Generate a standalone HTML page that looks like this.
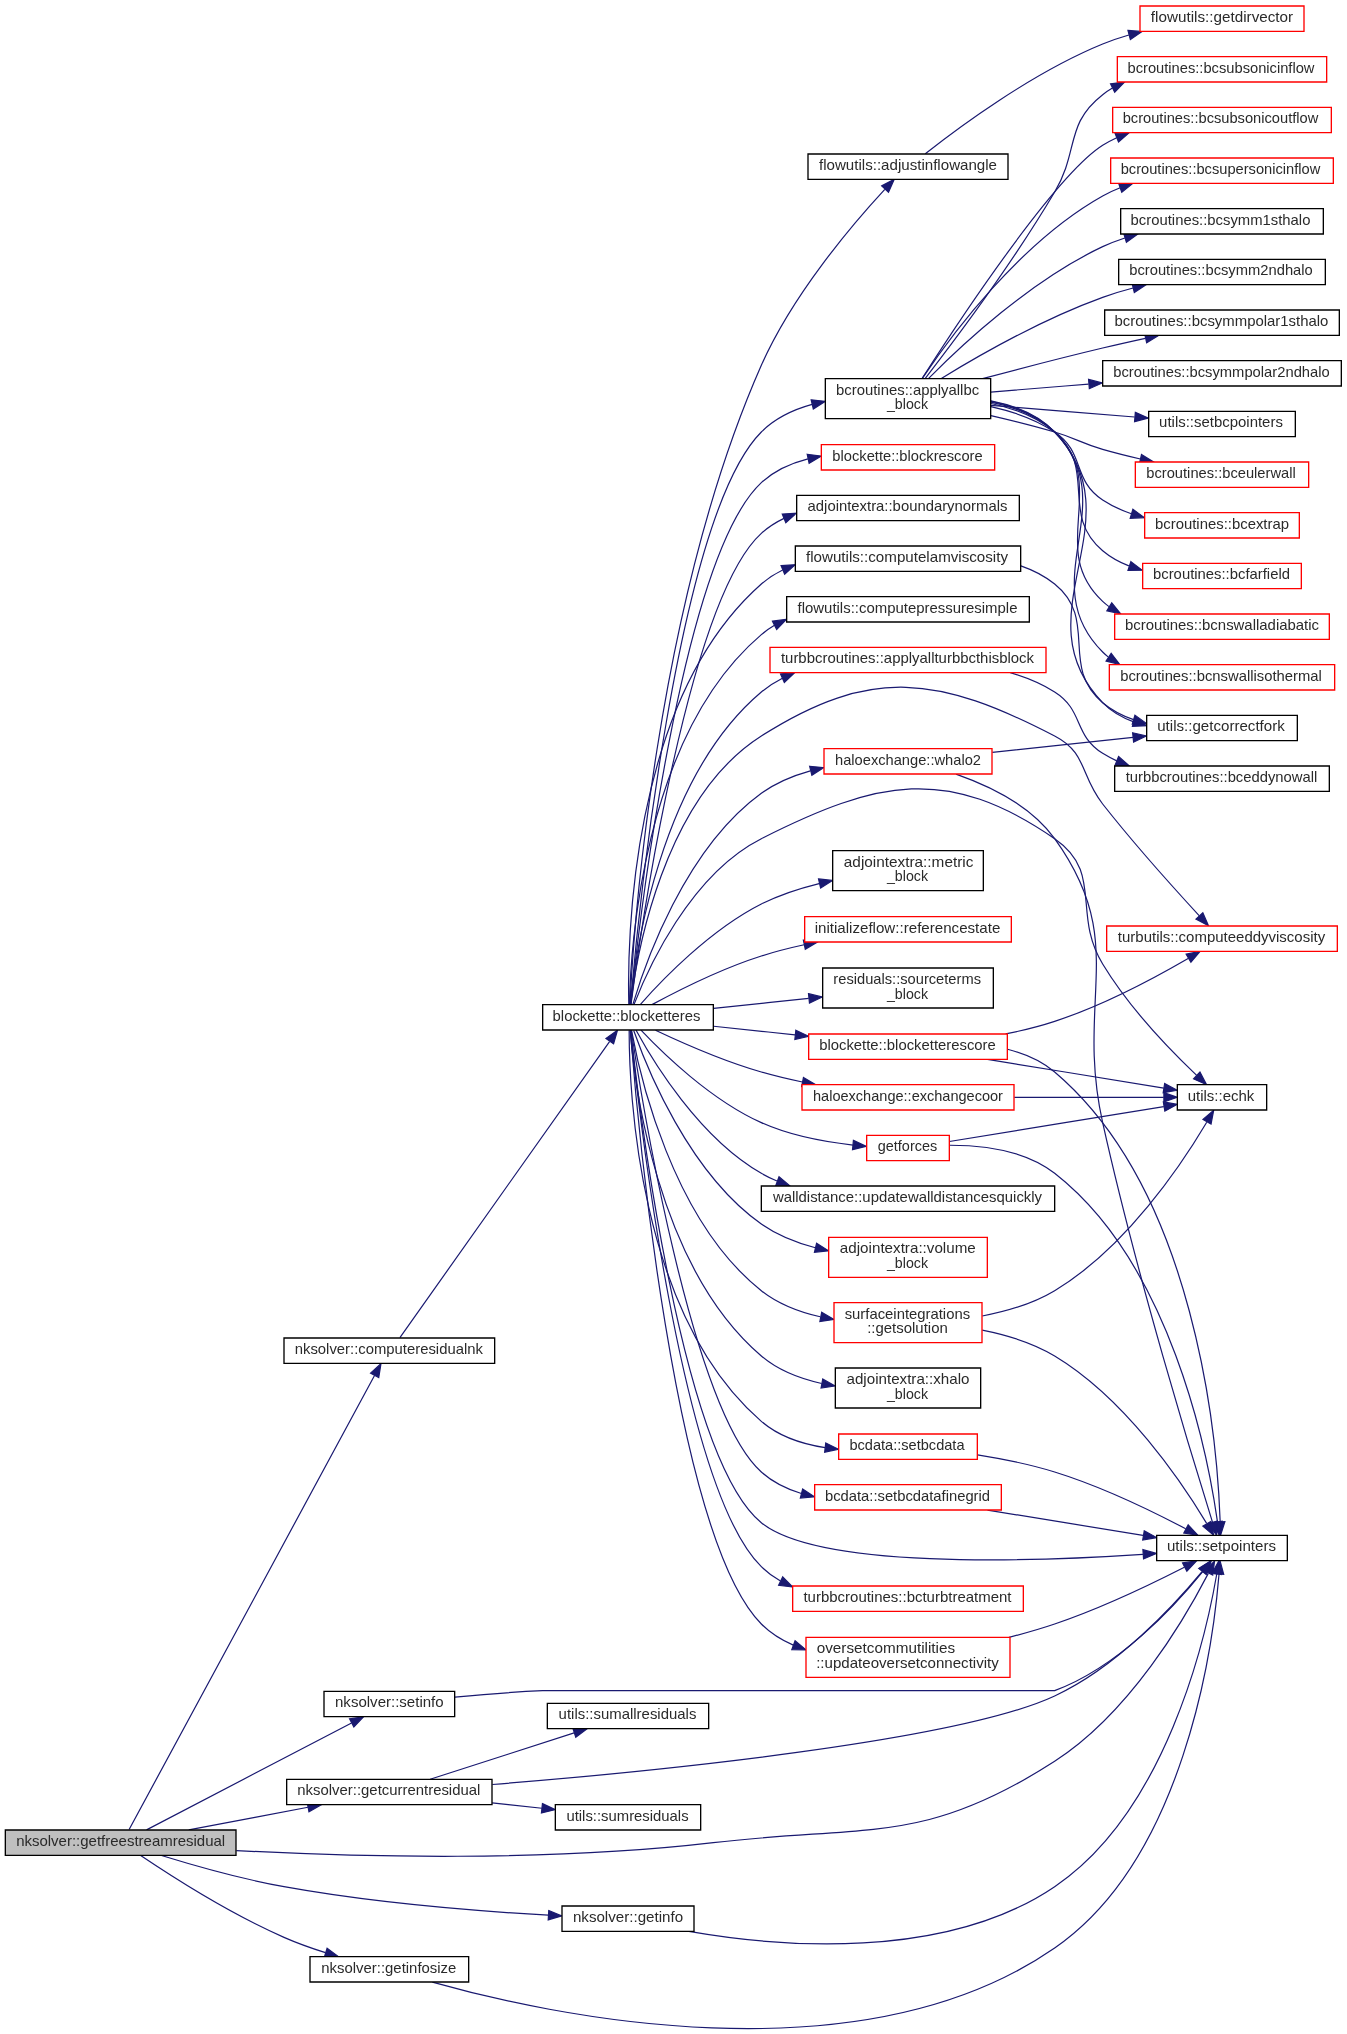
<!DOCTYPE html>
<html><head><meta charset="utf-8"><title>nksolver::getfreestreamresidual call graph</title>
<style>
html,body{margin:0;padding:0;background:#fff;overflow:hidden;}
svg{display:block;will-change:transform;}
text{font-family:"Liberation Sans",sans-serif;font-size:11.25px;fill:#2a2a2a;}
</style></head><body>
<svg width="1347" height="2034" viewBox="0 0 1010.25 1525.5">
<rect x="0" y="0" width="1010.25" height="1525.5" fill="#fff"/>
<g transform="translate(4.0 1521.76)">
<g fill="none" stroke="#191970" stroke-width="0.9">
<path d="M92.84,-149.63C119.77,-199.45 240.92,-423.53 276.9,-490.07"/>
<path d="M173.28,-133.85C262.87,-129.06 407.31,-125.22 531,-139.76 647.16,-153.41 688.64,-137.47 787,-200.76 843.33,-237 884.71,-307.78 902.24,-341.72"/>
<path d="M137.58,-149.3C164.74,-154.47 198.49,-160.9 227.03,-166.33"/>
<path d="M117.13,-130.17C141.53,-122.65 177.17,-112.52 209,-106.76 276.38,-94.55 354.89,-88.37 407.24,-85.36"/>
<path d="M101.52,-130.11C123.57,-115.29 168.06,-86.73 209,-68.76 218.83,-64.44 229.68,-60.58 240.08,-57.28"/>
<path d="M105.91,-149.35C141.17,-167.74 218.38,-207.99 259.67,-229.51"/>
<path d="M295.94,-518.56C322.54,-556.13 418.26,-691.33 453.15,-740.61"/>
<path d="M468.43,-768.54C471.03,-820.35 487.25,-1067.08 567,-1247.76 590.47,-1300.94 635.4,-1353.55 659.6,-1379.71"/>
<path d="M468.79,-768.29C473.83,-826.5 503.17,-1133.69 567,-1197.76 577.3,-1208.09 590.95,-1214.52 605.09,-1218.43"/>
<path d="M468.79,-768.28C472.35,-804.92 490.32,-938.03 567,-1002.76 571.81,-1006.82 577.15,-1010.23 582.82,-1013.1"/>
<path d="M468.95,-749.08C474.68,-692.6 506.48,-406.13 567,-346.76 571.3,-342.54 576.16,-338.99 581.38,-336.02"/>
<path d="M531.25,-752.07C550.48,-750.03 571.9,-747.77 592.26,-745.61"/>
<path d="M469.03,-768.68C473.29,-803.8 492.89,-922.67 567,-969.76 649.53,-1022.2 700.18,-1014.74 787,-969.76 811.63,-956.99 805.83,-940.55 823,-918.76 846.98,-888.31 877.14,-854.81 895.34,-835.07"/>
<path d="M471.47,-768.27C481.5,-794.13 513.29,-865.66 567,-892.76 654.3,-936.8 706.44,-948.17 787,-892.76 823.86,-867.4 799.8,-837.01 823,-798.76 842.86,-766 873.95,-733.87 893.5,-715.2"/>
<path d="M469.02,-749C474.93,-694.58 506.58,-429.14 567,-379.76 609.34,-345.15 766.52,-350.24 853.19,-356.01"/>
<path d="M468.99,-768.59C474.84,-824.65 506.7,-1103.51 567,-1159.76 576.68,-1168.79 589.05,-1174.33 601.96,-1177.62"/>
<path d="M469.23,-768.34C476.12,-820.67 511.69,-1071.4 567,-1121.76 572.06,-1126.36 577.82,-1130.05 583.99,-1133"/>
<path d="M467.62,-768.32C466.45,-812.24 467.78,-996.06 567,-1083.76 571.82,-1088.01 577.24,-1091.48 583.02,-1094.3"/>
<path d="M468.06,-768.31C468.85,-809.05 477.73,-969.71 567,-1045.76 570.08,-1048.38 573.39,-1050.7 576.87,-1052.75"/>
<path d="M487.63,-749.11C507.28,-739.82 538.59,-726.01 567,-717.76 576.86,-714.9 587.34,-712.4 597.77,-710.24"/>
<path d="M476.75,-749.13C492.82,-732.12 528.9,-696.91 567,-679.76 588.52,-670.07 614.5,-665.3 635.7,-662.97"/>
<path d="M469.59,-749.18C475.59,-716.24 500.02,-606.69 567,-553.76 579.6,-543.8 595.45,-537.78 611.15,-534.18"/>
<path d="M476.19,-768.36C491.9,-786.14 528.17,-824.16 567,-843.76 580.38,-850.51 595.6,-855.46 610.33,-859.09"/>
<path d="M484.99,-768.28C504.29,-778.7 537.02,-795.21 567,-804.76 577.25,-808.02 588.21,-810.81 599.1,-813.18"/>
<path d="M467.86,-748.98C467.83,-706.51 473.72,-536.55 567,-455.76 580.17,-444.35 597.69,-438.64 614.82,-436.02"/>
<path d="M469.42,-749.09C477.02,-698.5 514.65,-464.64 567,-417.76 575.52,-410.12 585.98,-405.02 597.01,-401.67"/>
<path d="M531.25,-765.45C553.74,-767.83 579.25,-770.52 602.52,-772.99"/>
<path d="M468.74,-748.88C473.45,-688.57 501.21,-370.29 567,-303.76 573.79,-296.89 582.05,-291.75 590.96,-287.92"/>
<path d="M472.95,-749.24C485.35,-726.45 520.14,-668.62 567,-641.76 570.75,-639.61 574.68,-637.69 578.74,-635.98"/>
<path d="M471.27,-748.89C480.99,-721.18 512.45,-642.2 567,-603.76 578.93,-595.35 593.25,-589.73 607.52,-585.97"/>
<path d="M470.74,-768.62C479.42,-797.88 509.18,-884.82 567,-926.76 577.81,-934.6 590.7,-939.96 603.77,-943.6"/>
<path d="M468.63,-749.12C471.64,-711.39 487.9,-572.46 567,-504.76 579.62,-493.96 596,-487.7 612.22,-484.15"/>
<path d="M689.98,-1406.48C713.8,-1425.31 769.47,-1466.85 823,-1488.76 829.25,-1491.32 835.9,-1493.55 842.64,-1495.5"/>
<path d="M739.16,-1210.1C754.85,-1206.48 771.63,-1202.28 787,-1197.76 803.32,-1192.96 806.65,-1189.44 823,-1184.76 832.08,-1182.16 841.78,-1179.73 851.3,-1177.54"/>
<path d="M739.17,-1216.82C755.69,-1213.13 772.89,-1207.22 787,-1197.76 810.04,-1182.3 799.85,-1162.05 823,-1146.76 829.55,-1142.43 836.9,-1139.07 844.51,-1136.46"/>
<path d="M739.28,-1219.15C756.28,-1215.55 773.7,-1209.09 787,-1197.76 819.47,-1170.08 790.34,-1136.21 823,-1108.76 828.79,-1103.89 835.53,-1100.18 842.66,-1097.37"/>
<path d="M739.23,-1220.22C756.53,-1216.68 774.12,-1210 787,-1197.76 829.52,-1157.34 780.19,-1110.88 823,-1070.76 824.5,-1069.35 826.09,-1068.03 827.74,-1066.8"/>
<path d="M739.13,-1220.81C756.63,-1217.33 774.37,-1210.52 787,-1197.76 839.79,-1144.4 769.84,-1085.74 823,-1032.76 824.3,-1031.46 825.67,-1030.24 827.09,-1029.1"/>
<path d="M689.97,-1238.06C710.98,-1265.28 755.27,-1324.29 787,-1377.76 805.46,-1408.87 794.47,-1428.52 823,-1450.76 825.32,-1452.57 827.78,-1454.22 830.34,-1455.72"/>
<path d="M687.54,-1237.85C713.61,-1278.66 786.56,-1389.64 823,-1412.76 826.34,-1414.87 829.88,-1416.76 833.54,-1418.44"/>
<path d="M687.88,-1238.14C708.76,-1269.29 760.62,-1339.85 823,-1374.76 827.15,-1377.08 831.56,-1379.12 836.11,-1380.91"/>
<path d="M692.5,-1237.99C716.97,-1262.74 769.08,-1311.45 823,-1336.76 828.29,-1339.24 833.9,-1341.4 839.64,-1343.28"/>
<path d="M701.7,-1237.77C729.68,-1254.86 778.1,-1282.51 823,-1298.76 830.27,-1301.39 838.02,-1303.71 845.79,-1305.74"/>
<path d="M732.94,-1237.77C759.99,-1245.01 793.13,-1253.64 823,-1260.76 833.31,-1263.21 844.33,-1265.69 854.97,-1268.02"/>
<path d="M739.04,-1227.72C761.49,-1229.55 787.52,-1231.67 812.46,-1233.7"/>
<path d="M739.16,-1221.17C756.77,-1217.72 774.56,-1210.84 787,-1197.76 850.15,-1131.37 759.38,-1060.7 823,-994.76 829.41,-988.11 837.54,-983.52 846.26,-980.38"/>
<path d="M739.04,-1217.79C772.23,-1215.09 813.26,-1211.75 846.97,-1209.01"/>
<path d="M753.69,-1017.24C765.38,-1013.79 776.91,-1009.1 787,-1002.76 808.97,-988.93 800.99,-970.53 823,-956.76 826.35,-954.66 829.9,-952.79 833.57,-951.13"/>
<path d="M750.26,-746.32C762.67,-748.82 775.32,-751.92 787,-755.76 823.45,-767.73 862.62,-788.73 887.09,-802.93"/>
<path d="M736.62,-727.22C777.74,-720.53 831.78,-711.73 868.84,-705.7"/>
<path d="M751.62,-734.82C764.5,-731.59 776.97,-726.27 787,-717.76 893.24,-627.56 908.89,-441.42 911.14,-380.52"/>
<path d="M761.64,-1097.37C770.82,-1094.2 779.53,-1089.79 787,-1083.76 820.19,-1056.94 790.34,-1022.21 823,-994.76 829.73,-989.1 837.75,-985.01 846.16,-982.07"/>
<path d="M756.73,-698.76C794.2,-698.76 837.53,-698.76 868.8,-698.76"/>
<path d="M708.05,-665.65C748.93,-672.3 822.3,-684.24 868.86,-691.82"/>
<path d="M708.35,-662.81C732.11,-662.82 764.75,-659.14 787,-641.76 873.79,-573.96 901.56,-432.84 909.06,-380.69"/>
<path d="M732.69,-534.76C750.91,-538.21 770.7,-544.01 787,-553.76 840.44,-585.72 882.44,-648.76 901.05,-680.12"/>
<path d="M732.68,-524.15C750.9,-520.53 770.7,-514.57 787,-504.76 840.15,-472.78 882.29,-410.29 900.99,-379.21"/>
<path d="M729.11,-430.62C747.6,-427.68 768.47,-423.51 787,-417.76 822.28,-406.81 860.59,-388.15 885.27,-375.18"/>
<path d="M736.62,-389.22C772.28,-383.41 817.65,-376.03 853.24,-370.24"/>
<path d="M752.74,-293.77C764.32,-296.7 776.06,-300.04 787,-303.76 821.58,-315.5 859.48,-333.67 884.28,-346.33"/>
<path d="M740.27,-957.42C772.83,-960.91 812.69,-965.18 845.76,-968.72"/>
<path d="M713,-941.19C737.61,-932.59 769.2,-917.45 787,-892.76 843.14,-814.88 802.14,-773.47 823,-679.76 848.6,-564.75 889.95,-429.38 905.41,-380"/>
<path d="M365.28,-183.39C485.68,-193.17 713.65,-215.6 787,-249.76 834.2,-271.74 876.51,-317.6 897.52,-342.95"/>
<path d="M318.63,-187.3C348.24,-196.83 393.94,-211.55 426.59,-222.07"/>
<path d="M365.09,-169.59C377.54,-168.25 390.31,-166.88 402.41,-165.58"/>
<path d="M512.66,-73.22C578.76,-61.74 703.75,-50.41 787,-106.76 870.38,-163.2 900.06,-292.16 908.58,-341.27"/>
<path d="M320.26,-35.19C404.44,-11.45 639.52,41.18 787,-60.76 884.01,-127.81 905.61,-285.51 910.26,-341.01"/>
<path d="M337.2,-248.93C357.49,-250.86 381.36,-252.81 403,-253.76 403,-253.76 787,-253.76 787,-253.76 835.29,-271.66 877.44,-317.6 898.05,-343.07"/>
</g>
<g fill="#191970" stroke="#191970" stroke-width="0.9">
<polygon points="273.91,-491.9 281.74,-499.03 280.06,-488.57 273.91,-491.9"/>
<polygon points="899.28,-343.63 906.91,-350.99 905.54,-340.48 899.28,-343.63"/>
<polygon points="226.42,-169.78 236.89,-168.21 227.73,-162.9 226.42,-169.78"/>
<polygon points="407.56,-88.85 417.35,-84.8 407.17,-81.86 407.56,-88.85"/>
<polygon points="241.32,-60.56 249.86,-54.29 239.27,-53.86 241.32,-60.56"/>
<polygon points="258.15,-232.66 268.63,-234.18 261.38,-226.46 258.15,-232.66"/>
<polygon points="450.47,-742.89 459.11,-749.02 456.19,-738.84 450.47,-742.89"/>
<polygon points="657.27,-1382.35 666.67,-1387.24 662.37,-1377.56 657.27,-1382.35"/>
<polygon points="604.38,-1221.86 614.92,-1220.76 605.99,-1215.05 604.38,-1221.86"/>
<polygon points="581.4,-1016.3 591.96,-1017.18 584.25,-1009.91 581.4,-1016.3"/>
<polygon points="583.06,-339.09 590.48,-331.53 579.96,-332.82 583.06,-339.09"/>
<polygon points="592.89,-749.07 602.46,-744.53 592.15,-742.11 592.89,-749.07"/>
<polygon points="898.12,-837.21 902.35,-827.5 892.99,-832.45 898.12,-837.21"/>
<polygon points="895.97,-717.68 900.87,-708.29 891.18,-712.58 895.97,-717.68"/>
<polygon points="853.18,-359.52 863.4,-356.71 853.66,-352.53 853.18,-359.52"/>
<polygon points="601.4,-1181.07 611.9,-1179.7 602.84,-1174.22 601.4,-1181.07"/>
<polygon points="582.7,-1136.25 593.28,-1136.79 585.35,-1129.77 582.7,-1136.25"/>
<polygon points="581.8,-1097.58 592.38,-1098.2 584.49,-1091.12 581.8,-1097.58"/>
<polygon points="575.34,-1055.9 585.85,-1057.3 578.51,-1049.66 575.34,-1055.9"/>
<polygon points="598.6,-713.65 607.73,-708.28 597.24,-706.78 598.6,-713.65"/>
<polygon points="636.06,-666.45 645.68,-662 635.39,-659.48 636.06,-666.45"/>
<polygon points="612.27,-537.53 621.4,-532.15 610.91,-530.66 612.27,-537.53"/>
<polygon points="609.9,-862.58 620.43,-861.39 611.46,-855.76 609.9,-862.58"/>
<polygon points="598.55,-816.64 609.05,-815.24 599.97,-809.79 598.55,-816.64"/>
<polygon points="615.32,-439.49 624.83,-434.82 614.49,-432.54 615.32,-439.49"/>
<polygon points="597.99,-405.03 606.81,-399.16 596.26,-398.25 597.99,-405.03"/>
<polygon points="602.38,-776.49 612.69,-774.06 603.11,-769.53 602.38,-776.49"/>
<polygon points="592.3,-291.16 600.45,-284.39 589.85,-284.6 592.3,-291.16"/>
<polygon points="580.26,-639.14 588.39,-632.35 577.8,-632.59 580.26,-639.14"/>
<polygon points="608.44,-589.35 617.37,-583.66 606.84,-582.54 608.44,-589.35"/>
<polygon points="603.22,-947.07 613.77,-946.07 604.9,-940.27 603.22,-947.07"/>
<polygon points="613.08,-487.55 622.26,-482.28 611.79,-480.67 613.08,-487.55"/>
<polygon points="841.97,-1498.94 852.54,-1498.15 843.78,-1492.18 841.97,-1498.94"/>
<polygon points="852.13,-1180.94 861.13,-1175.34 850.61,-1174.11 852.13,-1180.94"/>
<polygon points="845.66,-1139.77 854.23,-1133.55 843.65,-1133.07 845.66,-1139.77"/>
<polygon points="844.19,-1100.55 852.57,-1094.06 841.97,-1093.91 844.19,-1100.55"/>
<polygon points="829.83,-1069.62 836.48,-1061.38 826.14,-1063.68 829.83,-1069.62"/>
<polygon points="829.4,-1031.77 835.81,-1023.33 825.54,-1025.93 829.4,-1031.77"/>
<polygon points="828.89,-1458.9 839.4,-1460.26 832.03,-1452.64 828.89,-1458.9"/>
<polygon points="832.29,-1421.7 842.87,-1422.19 834.9,-1415.21 832.29,-1421.7"/>
<polygon points="835,-1384.23 845.59,-1384.25 837.32,-1377.63 835,-1384.23"/>
<polygon points="838.79,-1346.68 849.38,-1346.19 840.8,-1339.97 838.79,-1346.68"/>
<polygon points="845.07,-1309.17 855.61,-1308.17 846.74,-1302.37 845.07,-1309.17"/>
<polygon points="854.51,-1271.5 865.02,-1270.19 855.99,-1264.65 854.51,-1271.5"/>
<polygon points="812.43,-1237.21 822.69,-1234.53 813,-1230.23 812.43,-1237.21"/>
<polygon points="847.31,-983.72 855.9,-977.52 845.32,-977.01 847.31,-983.72"/>
<polygon points="847.5,-1212.48 857.18,-1208.18 846.93,-1205.5 847.5,-1212.48"/>
<polygon points="834.93,-954.35 842.92,-947.4 832.33,-947.85 834.93,-954.35"/>
<polygon points="885.62,-806.13 896.02,-808.19 889.18,-800.1 885.62,-806.13"/>
<polygon points="869.51,-709.14 878.82,-704.08 868.38,-702.23 869.51,-709.14"/>
<polygon points="914.65,-380.46 911.43,-370.36 907.65,-380.26 914.65,-380.46"/>
<polygon points="847.2,-985.41 855.79,-979.22 845.21,-978.7 847.2,-985.41"/>
<polygon points="868.92,-702.26 878.92,-698.76 868.92,-695.26 868.92,-702.26"/>
<polygon points="868.51,-695.31 878.94,-693.46 869.63,-688.4 868.51,-695.31"/>
<polygon points="912.58,-380.83 910.43,-370.45 905.64,-379.9 912.58,-380.83"/>
<polygon points="898.22,-682.21 906.26,-689.11 904.28,-678.7 898.22,-682.21"/>
<polygon points="904.17,-380.7 906.22,-370.31 898.14,-377.16 904.17,-380.7"/>
<polygon points="887.15,-378.14 894.33,-370.34 883.86,-371.96 887.15,-378.14"/>
<polygon points="854.17,-373.63 863.47,-368.57 853.04,-366.72 854.17,-373.63"/>
<polygon points="882.93,-349.57 893.42,-351.05 886.14,-343.35 882.93,-349.57"/>
<polygon points="845.47,-972.21 855.79,-969.79 846.21,-965.25 845.47,-972.21"/>
<polygon points="908.79,-380.91 908.45,-370.32 902.12,-378.81 908.79,-380.91"/>
<polygon points="895.02,-345.43 904.04,-350.99 900.46,-341.02 895.02,-345.43"/>
<polygon points="425.69,-225.45 436.28,-225.19 427.83,-218.79 425.69,-225.45"/>
<polygon points="402.83,-169.06 412.4,-164.51 402.08,-162.1 402.83,-169.06"/>
<polygon points="905.13,-341.92 910.19,-351.22 912.04,-340.79 905.13,-341.92"/>
<polygon points="906.79,-341.52 911.02,-351.23 913.77,-341 906.79,-341.52"/>
<polygon points="895.48,-345.47 904.42,-351.15 900.98,-341.13 895.48,-345.47"/>
</g>
<g stroke-width="1">
<polygon fill="#bfbfbf" stroke="black" points="0,-130.26 0,-149.26 173,-149.26 173,-130.26 0,-130.26"/>
<polygon fill="white" stroke="black" points="209,-499.26 209,-518.26 367,-518.26 367,-499.26 209,-499.26"/>
<polygon fill="white" stroke="black" points="863.5,-351.26 863.5,-370.26 961.5,-370.26 961.5,-351.26 863.5,-351.26"/>
<polygon fill="white" stroke="black" points="211,-168.26 211,-187.26 365,-187.26 365,-168.26 211,-168.26"/>
<polygon fill="white" stroke="black" points="417.5,-73.26 417.5,-92.26 516.5,-92.26 516.5,-73.26 417.5,-73.26"/>
<polygon fill="white" stroke="black" points="228.5,-35.26 228.5,-54.26 347.5,-54.26 347.5,-35.26 228.5,-35.26"/>
<polygon fill="white" stroke="black" points="239,-234.26 239,-253.26 337,-253.26 337,-234.26 239,-234.26"/>
<polygon fill="white" stroke="black" points="403,-749.26 403,-768.26 531,-768.26 531,-749.26 403,-749.26"/>
<polygon fill="white" stroke="black" points="602,-1387.26 602,-1406.26 752,-1406.26 752,-1387.26 602,-1387.26"/>
<polygon fill="white" stroke="black" points="615,-1207.76 615,-1237.76 739,-1237.76 739,-1207.76 615,-1207.76"/>
<polygon fill="white" stroke="red" points="573.5,-1017.26 573.5,-1036.26 780.5,-1036.26 780.5,-1017.26 573.5,-1017.26"/>
<polygon fill="white" stroke="red" points="590.5,-313.26 590.5,-332.26 763.5,-332.26 763.5,-313.26 590.5,-313.26"/>
<polygon fill="white" stroke="red" points="602.5,-727.26 602.5,-746.26 751.5,-746.26 751.5,-727.26 602.5,-727.26"/>
<polygon fill="white" stroke="red" points="826,-808.26 826,-827.26 999,-827.26 999,-808.26 826,-808.26"/>
<polygon fill="white" stroke="black" points="879,-689.26 879,-708.26 946,-708.26 946,-689.26 879,-689.26"/>
<polygon fill="white" stroke="red" points="612,-1169.26 612,-1188.26 742,-1188.26 742,-1169.26 612,-1169.26"/>
<polygon fill="white" stroke="black" points="593.5,-1131.26 593.5,-1150.26 760.5,-1150.26 760.5,-1131.26 593.5,-1131.26"/>
<polygon fill="white" stroke="black" points="592.5,-1093.26 592.5,-1112.26 761.5,-1112.26 761.5,-1093.26 592.5,-1093.26"/>
<polygon fill="white" stroke="black" points="586,-1055.26 586,-1074.26 768,-1074.26 768,-1055.26 586,-1055.26"/>
<polygon fill="white" stroke="red" points="597.5,-689.26 597.5,-708.26 756.5,-708.26 756.5,-689.26 597.5,-689.26"/>
<polygon fill="white" stroke="red" points="646,-651.26 646,-670.26 708,-670.26 708,-651.26 646,-651.26"/>
<polygon fill="white" stroke="red" points="621.5,-514.76 621.5,-544.76 732.5,-544.76 732.5,-514.76 621.5,-514.76"/>
<polygon fill="white" stroke="black" points="620.5,-853.76 620.5,-883.76 733.5,-883.76 733.5,-853.76 620.5,-853.76"/>
<polygon fill="white" stroke="red" points="599.5,-815.26 599.5,-834.26 754.5,-834.26 754.5,-815.26 599.5,-815.26"/>
<polygon fill="white" stroke="red" points="625,-427.26 625,-446.26 729,-446.26 729,-427.26 625,-427.26"/>
<polygon fill="white" stroke="red" points="607,-389.26 607,-408.26 747,-408.26 747,-389.26 607,-389.26"/>
<polygon fill="white" stroke="black" points="613,-765.76 613,-795.76 741,-795.76 741,-765.76 613,-765.76"/>
<polygon fill="white" stroke="red" points="600.5,-263.76 600.5,-293.76 753.5,-293.76 753.5,-263.76 600.5,-263.76"/>
<polygon fill="white" stroke="black" points="567,-613.26 567,-632.26 787,-632.26 787,-613.26 567,-613.26"/>
<polygon fill="white" stroke="red" points="617.5,-563.76 617.5,-593.76 736.5,-593.76 736.5,-563.76 617.5,-563.76"/>
<polygon fill="white" stroke="red" points="614,-941.26 614,-960.26 740,-960.26 740,-941.26 614,-941.26"/>
<polygon fill="white" stroke="black" points="622.5,-465.76 622.5,-495.76 731.5,-495.76 731.5,-465.76 622.5,-465.76"/>
<polygon fill="white" stroke="red" points="851,-1498.26 851,-1517.26 974,-1517.26 974,-1498.26 851,-1498.26"/>
<polygon fill="white" stroke="red" points="847.5,-1156.26 847.5,-1175.26 977.5,-1175.26 977.5,-1156.26 847.5,-1156.26"/>
<polygon fill="white" stroke="red" points="854.5,-1118.26 854.5,-1137.26 970.5,-1137.26 970.5,-1118.26 854.5,-1118.26"/>
<polygon fill="white" stroke="red" points="853,-1080.26 853,-1099.26 972,-1099.26 972,-1080.26 853,-1080.26"/>
<polygon fill="white" stroke="red" points="832,-1042.26 832,-1061.26 993,-1061.26 993,-1042.26 832,-1042.26"/>
<polygon fill="white" stroke="red" points="828,-1004.26 828,-1023.26 997,-1023.26 997,-1004.26 828,-1004.26"/>
<polygon fill="white" stroke="red" points="834,-1460.26 834,-1479.26 991,-1479.26 991,-1460.26 834,-1460.26"/>
<polygon fill="white" stroke="red" points="830.5,-1422.26 830.5,-1441.26 994.5,-1441.26 994.5,-1422.26 830.5,-1422.26"/>
<polygon fill="white" stroke="red" points="829,-1384.26 829,-1403.26 996,-1403.26 996,-1384.26 829,-1384.26"/>
<polygon fill="white" stroke="black" points="836.5,-1346.26 836.5,-1365.26 988.5,-1365.26 988.5,-1346.26 836.5,-1346.26"/>
<polygon fill="white" stroke="black" points="835,-1308.26 835,-1327.26 990,-1327.26 990,-1308.26 835,-1308.26"/>
<polygon fill="white" stroke="black" points="824.5,-1270.26 824.5,-1289.26 1000.5,-1289.26 1000.5,-1270.26 824.5,-1270.26"/>
<polygon fill="white" stroke="black" points="823,-1232.26 823,-1251.26 1002,-1251.26 1002,-1232.26 823,-1232.26"/>
<polygon fill="white" stroke="black" points="856,-966.26 856,-985.26 969,-985.26 969,-966.26 856,-966.26"/>
<polygon fill="white" stroke="black" points="857.5,-1194.26 857.5,-1213.26 967.5,-1213.26 967.5,-1194.26 857.5,-1194.26"/>
<polygon fill="white" stroke="black" points="832,-928.26 832,-947.26 993,-947.26 993,-928.26 832,-928.26"/>
<polygon fill="white" stroke="black" points="406.5,-225.26 406.5,-244.26 527.5,-244.26 527.5,-225.26 406.5,-225.26"/>
<polygon fill="white" stroke="black" points="412.5,-149.26 412.5,-168.26 521.5,-168.26 521.5,-149.26 412.5,-149.26"/>
</g>
<g lengthAdjust="spacingAndGlyphs">
<text x="86.5" y="-137.26" text-anchor="middle" lengthAdjust="spacingAndGlyphs" textLength="156.76">nksolver::getfreestreamresidual</text>
<text x="287.62" y="-506.26" text-anchor="middle" lengthAdjust="spacingAndGlyphs" textLength="141.08">nksolver::computeresidualnk</text>
<text x="912.12" y="-358.26" text-anchor="middle" lengthAdjust="spacingAndGlyphs" textLength="81.76">utils::setpointers</text>
<text x="287.62" y="-175.26" text-anchor="middle" lengthAdjust="spacingAndGlyphs" textLength="137.31">nksolver::getcurrentresidual</text>
<text x="467" y="-80.26" text-anchor="middle" lengthAdjust="spacingAndGlyphs" textLength="82.65">nksolver::getinfo</text>
<text x="287.62" y="-42.26" text-anchor="middle" lengthAdjust="spacingAndGlyphs" textLength="101.28">nksolver::getinfosize</text>
<text x="288" y="-241.26" text-anchor="middle" lengthAdjust="spacingAndGlyphs" textLength="81.49">nksolver::setinfo</text>
<text x="465.88" y="-756.26" text-anchor="middle" lengthAdjust="spacingAndGlyphs" textLength="110.87">blockette::blocketteres</text>
<text x="677" y="-1394.26" text-anchor="middle" lengthAdjust="spacingAndGlyphs" textLength="133.54">flowutils::adjustinflowangle</text>
<text x="623" y="-1225.76" lengthAdjust="spacingAndGlyphs" textLength="107.34">bcroutines::applyallbc</text>
<text x="676.62" y="-1214.76" text-anchor="middle" lengthAdjust="spacingAndGlyphs" textLength="30.78">_block</text>
<text x="676.62" y="-1024.26" text-anchor="middle" lengthAdjust="spacingAndGlyphs" textLength="189.84">turbbcroutines::applyallturbbcthisblock</text>
<text x="676.62" y="-320.26" text-anchor="middle" lengthAdjust="spacingAndGlyphs" textLength="156.03">turbbcroutines::bcturbtreatment</text>
<text x="676.62" y="-734.26" text-anchor="middle" lengthAdjust="spacingAndGlyphs" textLength="132.51">blockette::blocketterescore</text>
<text x="912.12" y="-815.26" text-anchor="middle" lengthAdjust="spacingAndGlyphs" textLength="155.46">turbutils::computeeddyviscosity</text>
<text x="911.75" y="-696.26" text-anchor="middle" lengthAdjust="spacingAndGlyphs" textLength="50.00">utils::echk</text>
<text x="676.62" y="-1176.26" text-anchor="middle" lengthAdjust="spacingAndGlyphs" textLength="112.73">blockette::blockrescore</text>
<text x="676.62" y="-1138.26" text-anchor="middle" lengthAdjust="spacingAndGlyphs" textLength="149.83">adjointextra::boundarynormals</text>
<text x="676.25" y="-1100.26" text-anchor="middle" lengthAdjust="spacingAndGlyphs" textLength="151.47">flowutils::computelamviscosity</text>
<text x="676.62" y="-1062.26" text-anchor="middle" lengthAdjust="spacingAndGlyphs" textLength="164.91">flowutils::computepressuresimple</text>
<text x="677" y="-696.26" text-anchor="middle" lengthAdjust="spacingAndGlyphs" textLength="142.47">haloexchange::exchangecoor</text>
<text x="676.62" y="-658.26" text-anchor="middle" lengthAdjust="spacingAndGlyphs" textLength="44.55">getforces</text>
<text x="629.5" y="-532.76" lengthAdjust="spacingAndGlyphs" textLength="94.09">surfaceintegrations</text>
<text x="676.62" y="-521.76" text-anchor="middle" lengthAdjust="spacingAndGlyphs" textLength="60.43">::getsolution</text>
<text x="628.88" y="-871.76" lengthAdjust="spacingAndGlyphs" textLength="97.15">adjointextra::metric</text>
<text x="676.62" y="-860.76" text-anchor="middle" lengthAdjust="spacingAndGlyphs" textLength="30.78">_block</text>
<text x="676.62" y="-822.26" text-anchor="middle" lengthAdjust="spacingAndGlyphs" textLength="139.28">initializeflow::referencestate</text>
<text x="676.25" y="-434.26" text-anchor="middle" lengthAdjust="spacingAndGlyphs" textLength="86.27">bcdata::setbcdata</text>
<text x="676.62" y="-396.26" text-anchor="middle" lengthAdjust="spacingAndGlyphs" textLength="123.82">bcdata::setbcdatafinegrid</text>
<text x="621" y="-783.76" lengthAdjust="spacingAndGlyphs" textLength="110.74">residuals::sourceterms</text>
<text x="676.62" y="-772.76" text-anchor="middle" lengthAdjust="spacingAndGlyphs" textLength="30.78">_block</text>
<text x="608.5" y="-281.76" lengthAdjust="spacingAndGlyphs" textLength="103.83">oversetcommutilities</text>
<text x="676.62" y="-270.76" text-anchor="middle" lengthAdjust="spacingAndGlyphs" textLength="136.96">::updateoversetconnectivity</text>
<text x="676.62" y="-620.26" text-anchor="middle" lengthAdjust="spacingAndGlyphs" textLength="201.85">walldistance::updatewalldistancesquickly</text>
<text x="625.88" y="-581.76" lengthAdjust="spacingAndGlyphs" textLength="101.98">adjointextra::volume</text>
<text x="676.62" y="-570.76" text-anchor="middle" lengthAdjust="spacingAndGlyphs" textLength="30.78">_block</text>
<text x="677" y="-948.26" text-anchor="middle" lengthAdjust="spacingAndGlyphs" textLength="109.48">haloexchange::whalo2</text>
<text x="630.88" y="-483.76" lengthAdjust="spacingAndGlyphs" textLength="92.22">adjointextra::xhalo</text>
<text x="676.62" y="-472.76" text-anchor="middle" lengthAdjust="spacingAndGlyphs" textLength="30.78">_block</text>
<text x="912.5" y="-1505.26" text-anchor="middle" lengthAdjust="spacingAndGlyphs" textLength="106.73">flowutils::getdirvector</text>
<text x="911.75" y="-1163.26" text-anchor="middle" lengthAdjust="spacingAndGlyphs" textLength="112.03">bcroutines::bceulerwall</text>
<text x="912.5" y="-1125.26" text-anchor="middle" lengthAdjust="spacingAndGlyphs" textLength="100.53">bcroutines::bcextrap</text>
<text x="912.12" y="-1087.26" text-anchor="middle" lengthAdjust="spacingAndGlyphs" textLength="102.71">bcroutines::bcfarfield</text>
<text x="912.5" y="-1049.26" text-anchor="middle" lengthAdjust="spacingAndGlyphs" textLength="145.61">bcroutines::bcnswalladiabatic</text>
<text x="911.75" y="-1011.26" text-anchor="middle" lengthAdjust="spacingAndGlyphs" textLength="151.15">bcroutines::bcnswallisothermal</text>
<text x="911.75" y="-1467.26" text-anchor="middle" lengthAdjust="spacingAndGlyphs" textLength="140.21">bcroutines::bcsubsonicinflow</text>
<text x="911.38" y="-1429.26" text-anchor="middle" lengthAdjust="spacingAndGlyphs" textLength="146.70">bcroutines::bcsubsonicoutflow</text>
<text x="911.38" y="-1391.26" text-anchor="middle" lengthAdjust="spacingAndGlyphs" textLength="149.70">bcroutines::bcsupersonicinflow</text>
<text x="911.38" y="-1353.26" text-anchor="middle" lengthAdjust="spacingAndGlyphs" textLength="134.88">bcroutines::bcsymm1sthalo</text>
<text x="911.75" y="-1315.26" text-anchor="middle" lengthAdjust="spacingAndGlyphs" textLength="137.66">bcroutines::bcsymm2ndhalo</text>
<text x="912.12" y="-1277.26" text-anchor="middle" lengthAdjust="spacingAndGlyphs" textLength="160.37">bcroutines::bcsymmpolar1sthalo</text>
<text x="912.12" y="-1239.26" text-anchor="middle" lengthAdjust="spacingAndGlyphs" textLength="162.39">bcroutines::bcsymmpolar2ndhalo</text>
<text x="911.75" y="-973.26" text-anchor="middle" lengthAdjust="spacingAndGlyphs" textLength="95.73">utils::getcorrectfork</text>
<text x="911.75" y="-1201.26" text-anchor="middle" lengthAdjust="spacingAndGlyphs" textLength="92.84">utils::setbcpointers</text>
<text x="912.12" y="-935.26" text-anchor="middle" lengthAdjust="spacingAndGlyphs" textLength="143.72">turbbcroutines::bceddynowall</text>
<text x="466.62" y="-232.26" text-anchor="middle" lengthAdjust="spacingAndGlyphs" textLength="103.31">utils::sumallresiduals</text>
<text x="466.62" y="-156.26" text-anchor="middle" lengthAdjust="spacingAndGlyphs" textLength="91.62">utils::sumresiduals</text>
</g>
</g>
</svg>
</body></html>
